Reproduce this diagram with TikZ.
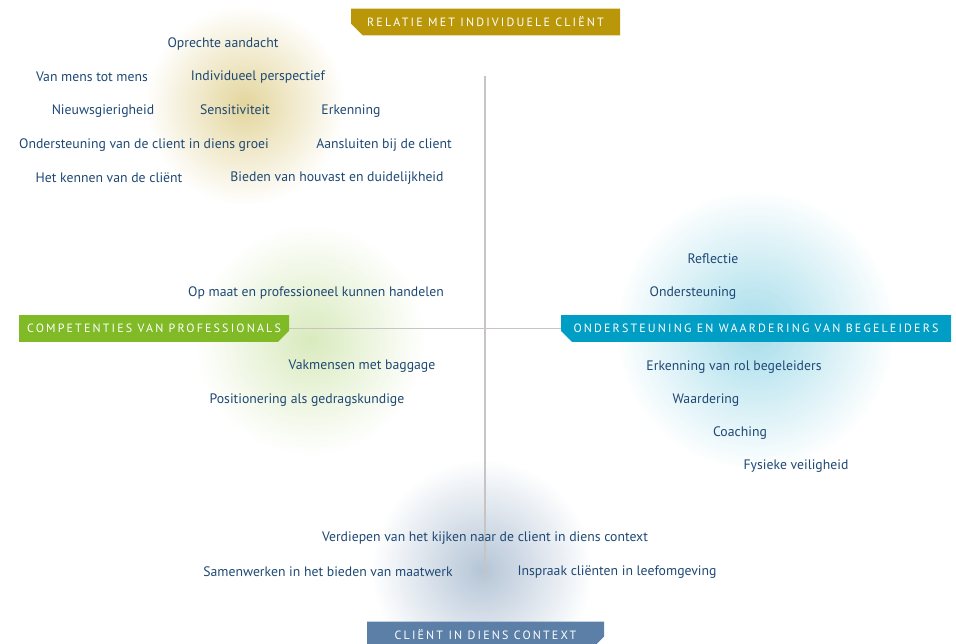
\documentclass[tikz,border=0pt]{standalone}
\usepackage{fontspec}
\setmainfont{PT Sans}
\newfontfamily\tagfont[LetterSpace=18]{PT Sans}
\usetikzlibrary{shapes.misc,fadings}
\definecolor{relgold}{RGB}{186,151,8}
\definecolor{compgreen}{RGB}{128,186,39}
\definecolor{begteal}{RGB}{0,157,196}
\definecolor{ctxslate}{RGB}{91,127,166}
\definecolor{itemblue}{RGB}{30,72,115}
\definecolor{axisgray}{RGB}{200,196,196}
\tikzfading[name=glowfade,inner color=transparent!0,outer color=transparent!100]

\begin{document}
\begin{tikzpicture}[x=0.75pt,y=-0.75pt,
  item/.style={text=itemblue,font=\fontsize{10.3}{12}\selectfont,inner sep=0pt,yshift=-1.2pt},
  tag/.style={chamfered rectangle,chamfered rectangle xsep=5pt,chamfered rectangle ysep=5pt,
    fill=#1,text=white,inner sep=0pt,minimum height=20pt,font=\tagfont\fontsize{9}{10}\selectfont},
  glow/.style={fill=#1,path fading=glowfade}]
  \useasboundingbox (0,0) rectangle (956,643);

  \fill[glow=relgold,fill opacity=.4] (245,105) circle (100);
  \fill[glow=compgreen,fill opacity=.3] (310,340) circle (115);
  \fill[glow=begteal,fill opacity=.35] (755,330) circle (140);
  \fill[glow=ctxslate,fill opacity=.45] (482,570) circle (110);

  \coordinate (vtop) at (485,76);
  \coordinate (vbot) at (485,580);

  \node[tag=relgold,minimum width=201.75pt,chamfered rectangle corners=south west] (rel) at (485.5,22) {RELATIE MET INDIVIDUELE CLIËNT};
  \node[tag=compgreen,minimum width=202.5pt,chamfered rectangle corners=south east] (comp) at (154,328.5) {COMPETENTIES VAN PROFESSIONALS};
  \node[tag=begteal,minimum width=292.5pt,chamfered rectangle corners=south west] (beg) at (756,328.5) {ONDERSTEUNING EN WAARDERING VAN BEGELEIDERS};
  \node[tag=ctxslate,minimum width=177.75pt,chamfered rectangle corners=south east] (ctx) at (485.5,635) {CLIËNT IN DIENS CONTEXT};

  \draw[axisgray,line width=.8pt] (vtop) -- (vbot);
  \draw[axisgray,line width=.8pt] (comp.east) -- (beg.west);

  \node[item] (opr) at (223,42) {Oprechte aandacht};
  \node[item] (vmm) at (92,75) {Van mens tot mens};
  \node[item] (ind) at (258,75) {Individueel perspectief};
  \node[item] (nws) at (103,109) {Nieuwsgierigheid};
  \node[item] (sen) at (235,108) {Sensitiviteit};
  \node[item] (erk) at (351,109) {Erkenning};
  \node[item] (ogr) at (144,143) {Ondersteuning van de client in diens groei};
  \node[item] (aan) at (384,143) {Aansluiten bij de client};
  \node[item] (ken) at (109,176) {Het kennen van de cliënt};
  \node[item] (hou) at (337,176) {Bieden van houvast en duidelijkheid};

  \node[item] (opm) at (316,291) {Op maat en professioneel kunnen handelen};
  \node[item] (vak) at (362,365) {Vakmensen met baggage};
  \node[item] (pos) at (307,398) {Positionering als gedragskundige};

  \node[item] (ref) at (713,257) {Reflectie};
  \node[item] (ond) at (693,291) {Ondersteuning};
  \node[item] (erb) at (734,365) {Erkenning van rol begeleiders};
  \node[item] (waa) at (706,398) {Waardering};
  \node[item] (coa) at (740,431) {Coaching};
  \node[item] (fys) at (796,464) {Fysieke veiligheid};

  \node[item] (ver) at (485,536) {Verdiepen van het kijken naar de client in diens context};
  \node[item] (sam) at (328,570) {Samenwerken in het bieden van maatwerk};
  \node[item] (ins) at (617,570) {Inspraak cliënten in leefomgeving};
\end{tikzpicture}
\end{document}
